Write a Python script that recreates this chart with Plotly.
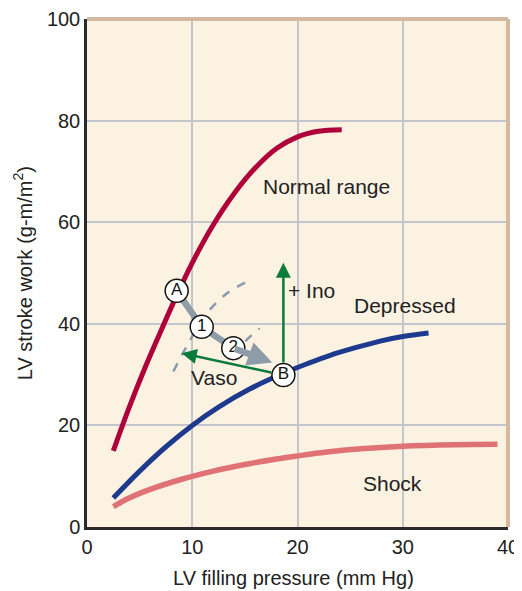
import plotly.graph_objects as go

# curves
normal_x = [2.5, 4, 5.5, 7, 8.5, 10, 12, 14, 16, 18, 20, 22, 24.2]
normal_y = [15, 23.5, 31.3, 38.5, 45.5, 52, 59.5, 65.7, 70.7, 74.5, 76.8, 77.9, 78.2]

depressed_x = [2.5, 5, 7.5, 10, 12.5, 15.5, 18.6, 21, 23.1, 25.5, 27.85, 30, 32.45]
depressed_y = [5.7, 11, 15.8, 20, 23.6, 27.2, 30.2, 32.2, 33.8, 35.3, 36.6, 37.5, 38.2]

shock_x = [2.5, 4, 6, 9, 12, 15, 18, 20, 23, 26, 30, 35, 39]
shock_y = [4, 5.7, 7.4, 9.4, 11.0, 12.3, 13.4, 14.0, 14.8, 15.4, 15.9, 16.2, 16.3]

dash1_x = [8.2, 9.8, 11.4, 13.3, 15.2]
dash1_y = [30.6, 36.8, 42.1, 46.0, 48.3]
dash2_x = [13.9, 15.1, 16.4]
dash2_y = [33.9, 36.7, 39.1]

pt_labels = ["A", "1", "2", "B"]
pt_x = [8.52, 10.9, 13.9, 18.66]
pt_y = [46.5, 39.4, 35.2, 29.9]

path_tip = (17.6, 32.4)
ino_tip = (18.66, 52.0)
vaso_tip = (9.0, 34.2)

FONT = "Liberation Sans, Arial, sans-serif"
GREEN = "#0B7A3B"
GRAY = "#8D9CA8"
TEXT = "#222"

fig = go.Figure()
fig.add_trace(go.Scatter(x=normal_x, y=normal_y, mode="lines", line=dict(color="#B0003A", width=5, shape="spline")))
fig.add_trace(go.Scatter(x=depressed_x, y=depressed_y, mode="lines", line=dict(color="#1E3A8F", width=5, shape="spline")))
fig.add_trace(go.Scatter(x=shock_x, y=shock_y, mode="lines", line=dict(color="#E07276", width=5.5, shape="spline")))
for dx, dy in [(dash1_x, dash1_y), (dash2_x, dash2_y)]:
    fig.add_trace(go.Scatter(x=dx, y=dy, mode="lines",
                             line=dict(color="#8A9AAA", width=2.5, dash="dash", shape="spline")))
# thick gray path A -> 1 -> 2
fig.add_trace(go.Scatter(x=pt_x[:3], y=pt_y[:3], mode="lines", line=dict(color=GRAY, width=6.5)))

fig.add_annotation(x=path_tip[0], y=path_tip[1], ax=pt_x[2], ay=pt_y[2], axref="x", ayref="y",
                   xref="x", yref="y", showarrow=True, arrowhead=2, arrowsize=0.75, arrowwidth=6.5,
                   arrowcolor=GRAY, text="")
fig.add_annotation(x=ino_tip[0], y=ino_tip[1], ax=pt_x[3], ay=pt_y[3], axref="x", ayref="y",
                   xref="x", yref="y", showarrow=True, arrowhead=2, arrowsize=1.2, arrowwidth=2.5,
                   arrowcolor=GREEN, text="", startstandoff=11)
fig.add_annotation(x=vaso_tip[0], y=vaso_tip[1], ax=pt_x[3], ay=pt_y[3], axref="x", ayref="y",
                   xref="x", yref="y", showarrow=True, arrowhead=2, arrowsize=1.2, arrowwidth=2.5,
                   arrowcolor=GREEN, text="", startstandoff=11)

fig.add_trace(go.Scatter(x=pt_x, y=pt_y, mode="markers+text", text=pt_labels,
                         textposition="middle center",
                         textfont=dict(family=FONT, size=17, color="#111"),
                         marker=dict(size=23, color="white", line=dict(color="#111", width=1.5))))

labels = [("Normal range", 22.8, 67.1), ("Depressed", 30.2, 43.7), ("Shock", 29.0, 8.5),
          ("Vaso", 12.1, 29.5)]
for txt, lx, ly in labels:
    fig.add_annotation(x=lx, y=ly, text=txt, showarrow=False,
                       font=dict(family=FONT, size=21, color=TEXT))
fig.add_annotation(x=18.9, y=46.5, text="+ Ino", showarrow=False, xanchor="left",
                   font=dict(family=FONT, size=21, color=TEXT))

# axis titles
fig.add_annotation(xref="paper", yref="paper", x=0.49, y=-0.1, xanchor="center", yanchor="middle",
                   text="LV filling pressure (mm Hg)",
                   showarrow=False, font=dict(family=FONT, size=20, color=TEXT))
fig.add_annotation(xref="paper", yref="paper", x=-0.154, y=0.5, xanchor="center", yanchor="middle",
                   textangle=-90, text="LV stroke work (g-m/m<sup>2</sup>)",
                   showarrow=False, font=dict(family=FONT, size=20, color=TEXT))

# tan top / right border
fig.add_shape(type="line", xref="x domain", yref="y domain", x0=0, x1=1, y0=1, y1=1,
              line=dict(color="#D2B9A0", width=4))
fig.add_shape(type="line", xref="x domain", yref="y domain", x0=1, x1=1, y0=0, y1=1,
              line=dict(color="#D2B9A0", width=4))

axis_common = dict(showgrid=True, gridcolor="#C4C6CE", gridwidth=1.5, zeroline=False,
                   showline=True, linecolor="#2A2A2A", linewidth=2.5, ticks="",
                   automargin=False, tickfont=dict(family=FONT, size=20, color=TEXT))
fig.update_xaxes(range=[0, 40], dtick=10, **axis_common)
fig.update_yaxes(range=[0, 100], dtick=20, **axis_common)

# page body has an 8px margin, so the figure is sized to fit the 522x591 window
fig.update_layout(width=514, height=583, showlegend=False,
                  paper_bgcolor="white", plot_bgcolor="#FCF2E2",
                  margin=dict(l=79, r=14, t=11, b=64))
fig.write_html("out.html")
